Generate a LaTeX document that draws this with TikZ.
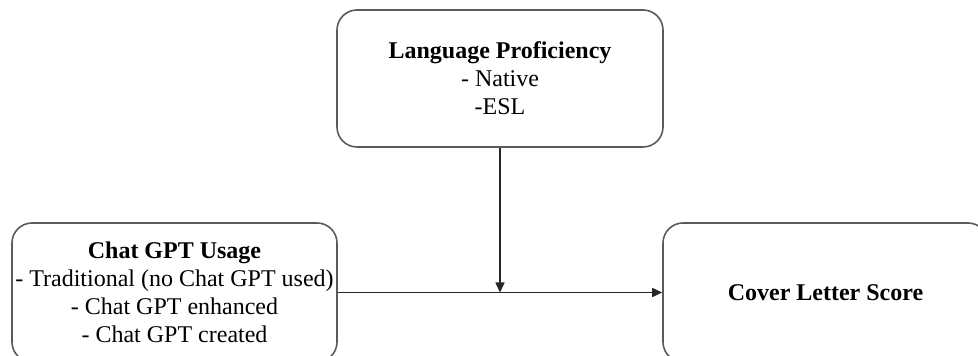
\documentclass[tikz,border=0pt]{standalone}
\usepackage{fontspec}
\setmainfont{Liberation Serif}
\usepackage{tikz}
\usetikzlibrary{positioning, arrows.meta}
\definecolor{BoxGray}{RGB}{90,90,90}

\begin{document}
\begin{tikzpicture}[x=0.5pt, y=-0.5pt,
          vbx/.style={rectangle, rounded corners=10pt, draw=BoxGray, line width=0.8pt,
                      minimum width=162.5pt, minimum height=69.5pt, inner sep=0pt,
                      align=center, font=\fontsize{12}{14}\selectfont},
          arr/.style={-{Triangle[length=5pt, width=4.5pt]}, draw=black!85, line width=0.8pt}
        ]
        \useasboundingbox (0,0) rectangle (978,356);

        \node[vbx, minimum width=163pt, minimum height=68.5pt] (lang) at (500, 78.5)
              {\textbf{Language Proficiency}\\- Native\\-ESL};
        \node[vbx] (gpt)   at (174.5, 292.5)
              {\textbf{Chat GPT Usage}\\- Traditional (no Chat GPT used)\\- Chat GPT enhanced\\- Chat GPT created};
        \node[vbx] (score) at (825.5, 292.5) {\textbf{Cover Letter Score}};

        \coordinate (join) at (lang.south |- gpt.east);

        \draw[arr] (gpt.east) -- (score.west);
        \draw[arr] (lang.south) -- (join);
      \end{tikzpicture}
\end{document}
